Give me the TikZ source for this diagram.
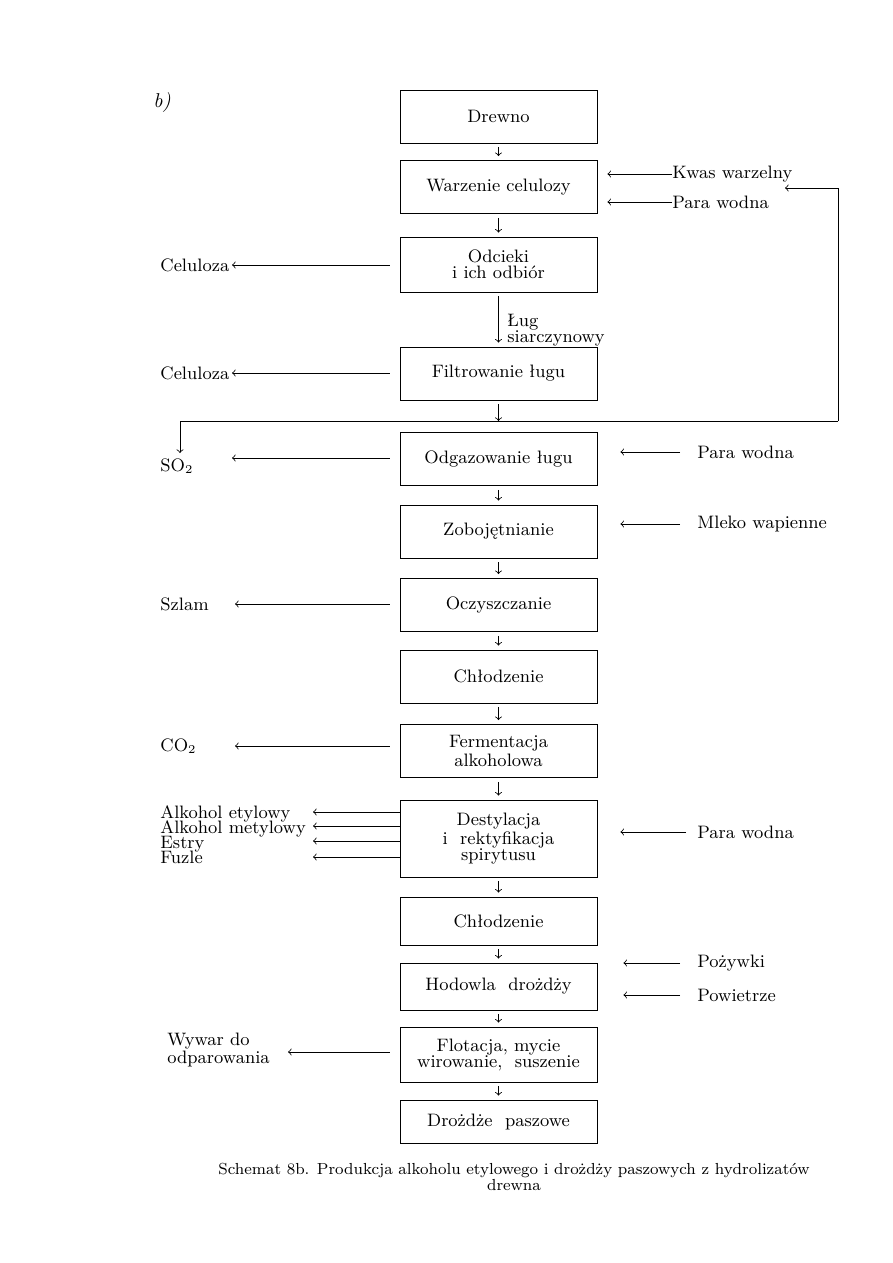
\documentclass[tikz,border=0pt]{standalone}
\usepackage{fontspec}
\newcommand\ciasno{\lineskiplimit=-5pt\relax}
\tikzset{
  etap/.style={draw, thin, minimum width=98.5pt, minimum height=26.5pt,
    align=center, inner sep=1pt, font=\fontsize{9}{8}\selectfont},
  opis/.style={inner sep=0pt, anchor=west, align=left, font=\fontsize{9}{8}\selectfont},
  strz/.style={->, thin},
}
\begin{document}
\begin{tikzpicture}[x=0.5pt,y=-0.5pt]
  \useasboundingbox (0,0) rectangle (893,1263);
  \node[opis, font=\fontsize{10}{10}\selectfont\itshape] (lit) at (153,103) {b)};

  %etapy procesu
  \node[etap] (drewno) at (498.5,116.5) {Drewno};
  \node[etap] (warzenie) at (498.5,187) {Warzenie celulozy};
  \node[etap, minimum height=27.5pt] (odcieki) at (498.5,264.5) {Odcieki\\i ich odbiór};
  \node[etap] (filtr) at (498.5,373.5) {Filtrowanie ługu};
  \node[etap] (odgaz) at (498.5,459) {Odgazowanie ługu};
  \node[etap] (zoboj) at (498.5,531.5) {Zobojętnianie};
  \node[etap] (oczysz) at (498.5,605) {Oczyszczanie};
  \node[etap] (chlodz1) at (498.5,676.5) {Chłodzenie};
  \node[etap] (ferm) at (498.5,751) {Fermentacja\\alkoholowa};
  \node[etap, minimum height=38.5pt] (destyl) at (498.5,838.5) {Destylacja\\i\ \ rektyfikacja\\spirytusu};
  \node[etap, minimum height=24pt] (chlodz2) at (498.5,921) {Chłodzenie};
  \node[etap, minimum height=23.5pt] (hodowla) at (498.5,986.5) {Hodowla\ \ drożdży};
  \node[etap, minimum height=27.5pt] (flot) at (498.5,1054.5) {Flotacja, mycie\\wirowanie,\ \ suszenie};
  \node[etap, minimum height=21.5pt] (pasza) at (498.5,1121.5) {Drożdże\ \ paszowe};

  %strzalki miedzy etapami
  \foreach \a/\b in {drewno/warzenie, warzenie/odcieki, odcieki/filtr,
      odgaz/zoboj, zoboj/oczysz, oczysz/chlodz1, chlodz1/ferm, ferm/destyl,
      destyl/chlodz2, chlodz2/hodowla, hodowla/flot, flot/pasza}
    \draw[strz, shorten <=2pt, shorten >=2pt] (\a) -- (\b);
  \node[opis] (lug) at (507,330) {Ług\\siarczynowy};

  %rozgalezienie pod filtrowaniem
  \coordinate (rozg) at (498.5,421);
  \coordinate (lewy) at (180,421);
  \coordinate (prawy) at (838,421);
  \coordinate (gora) at (838,188);
  \coordinate (powrot) at (785,188);
  \coordinate (so2wy) at (180,453);
  \draw[strz, shorten <=2pt] (filtr) -- (rozg);
  \draw (lewy) -- (prawy);
  \draw[strz] (prawy) -- (gora) -- (powrot);
  \draw[strz] (lewy) -- (so2wy);
  \node[opis] (so2) at (160,466) {SO$_2$};

  %doplywy z prawej
  \node[opis] (kwas) at (672,174) {Kwas warzelny};
  \node[opis] (para1) at (672,202) {Para wodna};
  \draw[strz, shorten >=5pt] (kwas.west) -- (kwas.west -| warzenie.east);
  \draw[strz, shorten >=5pt] (para1.west) -- (para1.west -| warzenie.east);
  \node[opis] (para2) at (697,452) {Para wodna};
  \draw[strz, shorten <=8.5pt, shorten >=11.5pt] (para2.west) -- (para2.west -| odgaz.east);
  \node[opis] (mleko) at (697,524) {Mleko wapienne};
  \draw[strz, shorten <=8.5pt, shorten >=11.5pt] (mleko.west) -- (mleko.west -| zoboj.east);
  \node[opis] (para3) at (697,832) {Para wodna};
  \draw[strz, shorten <=5.5pt, shorten >=11.5pt] (para3.west) -- (para3.west -| destyl.east);
  \node[opis] (pozywki) at (697,963) {Pożywki};
  \draw[strz, shorten <=8.5pt, shorten >=13pt] (pozywki.west) -- (pozywki.west -| hodowla.east);
  \node[opis] (powietrze) at (697,995) {Powietrze};
  \draw[strz, shorten <=8.5pt, shorten >=13pt] (powietrze.west) -- (powietrze.west -| hodowla.east);

  %odplywy z lewej
  \node[opis] (cel1) at (160,265) {Celuloza};
  \coordinate (cel1k) at (232,265);
  \draw[strz, shorten <=5pt] (odcieki.west |- cel1k) -- (cel1k);
  \node[opis] (cel2) at (160,373) {Celuloza};
  \coordinate (cel2k) at (232,373);
  \draw[strz, shorten <=5pt] (filtr.west |- cel2k) -- (cel2k);
  \coordinate (so2k) at (232,458);
  \draw[strz, shorten <=5pt] (odgaz.west |- so2k) -- (so2k);
  \node[opis] (szlam) at (160,604) {Szlam};
  \coordinate (szlamk) at (235,604);
  \draw[strz, shorten <=5pt] (oczysz.west |- szlamk) -- (szlamk);
  \node[opis] (co2) at (160,746) {CO$_2$};
  \coordinate (co2k) at (235,746);
  \draw[strz, shorten <=5pt] (ferm.west |- co2k) -- (co2k);

  %produkty destylacji
  \node[opis, font=\fontsize{9}{7.5}\selectfont\ciasno] (produkty) at (160,835)
    {Alkohol etylowy\\Alkohol metylowy\\Estry\\Fuzle};
  \foreach \n/\y in {etyl/812, metyl/826, estry/841, fuzle/857}{
    \coordinate (\n k) at (313,\y);
    \draw[strz] (destyl.west |- \n k) -- (\n k);
  }

  \node[opis] (wywar) at (167,1050) {Wywar do\\odparowania};
  \coordinate (wywark) at (288,1052);
  \draw[strz, shorten <=5pt] (flot.west |- wywark) -- (wywark);

  %podpis
  \node[font=\fontsize{8}{8}\selectfont, align=center] (podpis) at (514,1177)
    {Schemat 8b. Produkcja alkoholu etylowego i drożdży paszowych z hydrolizatów\\drewna};
\end{tikzpicture}
\end{document}
